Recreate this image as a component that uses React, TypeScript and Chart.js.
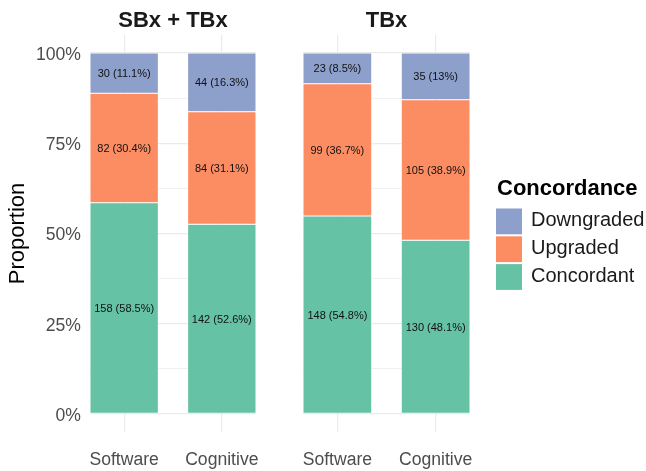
import React, { useEffect, useRef } from "react";
import { Chart, registerables } from "chart.js";

Chart.register(...registerables);

// ---- data ----
const panelTitles = ["SBx + TBx", "TBx"];
const methods = ["Software", "Cognitive"];
const legendOrder = ["Downgraded", "Upgraded", "Concordant"];
const stackOrder = ["Concordant", "Upgraded", "Downgraded"];

const sbxConcordant = [158, 142];
const sbxUpgraded = [82, 84];
const sbxDowngraded = [30, 44];

const tbxConcordant = [148, 130];
const tbxUpgraded = [99, 105];
const tbxDowngraded = [23, 35];

const yMajorTicks = [0, 0.25, 0.5, 0.75, 1];
const yMinorTicks = [0.125, 0.375, 0.625, 0.875];

const levelColors: Record<string, string> = {
  Concordant: "#66C2A5",
  Upgraded: "#FC8D62",
  Downgraded: "#8DA0CB",
};

const FONT = "'Liberation Sans', Arial, Helvetica, sans-serif";
Chart.defaults.font.family = FONT;

type PanelCounts = Record<string, number[]>;
const panelCounts: PanelCounts[] = [
  { Concordant: sbxConcordant, Upgraded: sbxUpgraded, Downgraded: sbxDowngraded },
  { Concordant: tbxConcordant, Upgraded: tbxUpgraded, Downgraded: tbxDowngraded },
];

function fmtPct(n: number, total: number) {
  const p = Math.round((n / total) * 1000) / 10;
  return `${n} (${p}%)`;
}

const valueLabelPlugin = {
  id: "valueLabels",
  afterDatasetsDraw(chart: any) {
    const ctx = chart.ctx;
    ctx.save();
    ctx.font = `11px ${FONT}`;
    ctx.fillStyle = "#111111";
    ctx.textAlign = "center";
    ctx.textBaseline = "middle";
    chart.data.datasets.forEach((ds: any, di: number) => {
      const meta = chart.getDatasetMeta(di);
      meta.data.forEach((el: any, i: number) => {
        const text = ds.labelsText[i];
        ctx.fillText(text, el.x, (el.y + el.base) / 2 + 1);
      });
    });
    ctx.restore();
  },
};

const panelTitlePlugin = {
  id: "panelTitle",
  afterDraw(chart: any, _args: any, opts: any) {
    const { left, right } = chart.chartArea;
    const ctx = chart.ctx;
    ctx.save();
    ctx.font = `bold 22px ${FONT}`;
    ctx.fillStyle = "#1a1a1a";
    ctx.textAlign = "center";
    ctx.textBaseline = "alphabetic";
    ctx.fillText(opts.text, (left + right) / 2, 26.5);
    ctx.restore();
  },
};

const legendPlugin = {
  id: "ggLegend",
  afterDraw(chart: any, _args: any, opts: any) {
    if (!opts.show) return;
    const ctx = chart.ctx;
    ctx.save();
    ctx.font = `bold 22px ${FONT}`;
    ctx.fillStyle = "#000000";
    ctx.textAlign = "left";
    ctx.textBaseline = "alphabetic";
    ctx.fillText("Concordance", 497, 195);
    ctx.font = `20px ${FONT}`;
    ctx.fillStyle = "#1a1a1a";
    legendOrder.forEach((lvl, i) => {
      const top = 208.5 + i * 27.8;
      ctx.fillStyle = levelColors[lvl];
      ctx.fillRect(496, top, 26, 25.8);
      ctx.fillStyle = "#1a1a1a";
      ctx.fillText(lvl, 531, top + 13 + 4.5);
    });
    ctx.restore();
  },
};

function buildChart(canvas: HTMLCanvasElement, panel: number) {
  const counts = panelCounts[panel];
  const totals = methods.map((_, i) => stackOrder.reduce((s, l) => s + counts[l][i], 0));
  const datasets = stackOrder.map((lvl) => ({
    label: lvl,
    data: methods.map((_, i) => ({ x: i + 1, y: counts[lvl][i] / totals[i] })),
    labelsText: methods.map((_, i) => fmtPct(counts[lvl][i], totals[i])),
    backgroundColor: levelColors[lvl],
    borderColor: "#ffffff",
    borderWidth: 0.5,
    borderSkipped: false,
    barPercentage: 0.7,
    categoryPercentage: 1,
  }));

  const isFirst = panel === 0;
  const gridColor = "#ebebeb";

  return new Chart(canvas, {
    type: "bar",
    data: { datasets } as any,
    plugins: [valueLabelPlugin, panelTitlePlugin, legendPlugin],
    options: {
      animation: false,
      responsive: false,
      events: [],
      layout: {
        padding: isFirst
          ? { left: 0, right: 646 - 256, top: 35, bottom: 0 }
          : { left: 303, right: 646 - 470, top: 35, bottom: 0 },
      },
      plugins: {
        legend: { display: false },
        tooltip: { enabled: false },
        panelTitle: { text: panelTitles[panel] },
        ggLegend: { show: !isFirst },
      } as any,
      scales: {
        x: {
          type: "linear",
          stacked: true,
          min: 0.65,
          max: 2.35,
          offset: false,
          border: { display: false },
          grid: { offset: false, color: gridColor, lineWidth: 1.2, drawTicks: false },
          afterBuildTicks: (scale: any) => {
            scale.ticks = methods.map((_, i) => ({ value: i + 1 }));
          },
          afterFit: (scale: any) => {
            scale.height = 39;
          },
          ticks: {
            autoSkip: false,
            padding: 18,
            color: "#4d4d4d",
            font: { size: 17.6, family: FONT },
            callback: (v: any) => methods[Math.round(Number(v)) - 1] ?? "",
          },
        },
        y: {
          type: "linear",
          stacked: true,
          min: -0.05,
          max: 1.05,
          border: { display: false },
          grid: {
            color: gridColor,
            drawTicks: false,
            lineWidth: (c: any) => (yMajorTicks.includes(c.tick?.value) ? 1.2 : 0.7),
          },
          afterBuildTicks: (scale: any) => {
            scale.ticks = [...yMajorTicks, ...yMinorTicks]
              .sort((a, b) => a - b)
              .map((v) => ({ value: v }));
          },
          afterFit: (scale: any) => {
            scale.width = isFirst ? 90 : 0;
          },
          ticks: {
            display: isFirst,
            autoSkip: false,
            padding: 9,
            labelOffset: 2,
            color: "#4d4d4d",
            font: { size: 17.6, family: FONT },
            callback: (v: any) =>
              yMajorTicks.includes(Number(v)) ? `${Math.round(Number(v) * 100)}%` : "",
          },
          title: {
            display: isFirst,
            text: "Proportion",
            color: "#000000",
            font: { size: 22, family: FONT },
            padding: { top: 5, bottom: 0 },
          },
        },
      },
    } as any,
  });
}

export default function App() {
  const refA = useRef<HTMLCanvasElement>(null);
  const refB = useRef<HTMLCanvasElement>(null);

  useEffect(() => {
    const a = buildChart(refA.current!, 0);
    const b = buildChart(refB.current!, 1);
    return () => {
      a.destroy();
      b.destroy();
    };
  }, []);

  const cs: React.CSSProperties = {
    position: "absolute",
    left: 0,
    top: 0,
    width: 646,
    height: 471,
  };

  return (
    <div style={{ position: "absolute", left: 0, top: 0, width: 646, height: 471, background: "#ffffff" }}>
      <canvas ref={refA} width={646} height={471} style={cs} />
      <canvas ref={refB} width={646} height={471} style={cs} />
    </div>
  );
}
